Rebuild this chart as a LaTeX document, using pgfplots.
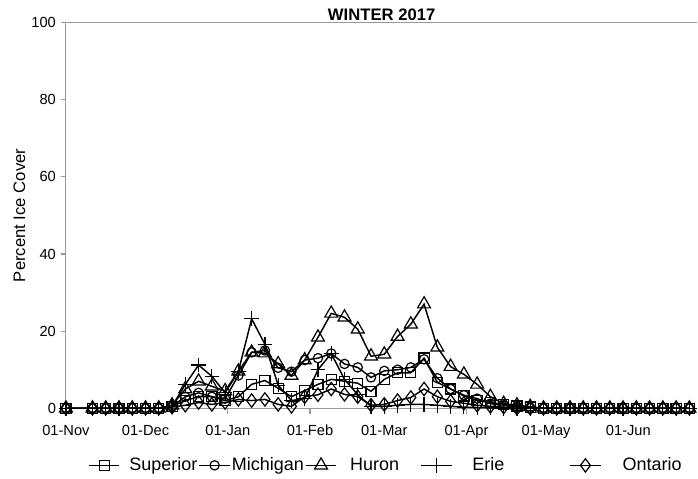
\documentclass[border=0pt]{standalone}
\usepackage{pgfplots}
\pgfplotsset{compat=1.18}
\usepackage{pgfplotstable}
\usepackage{fontspec}
\setmainfont{Liberation Sans}

\pgfplotstableread{
day sup mich huron erie ont
0 0 0 0 0 0
10 0 0 0 0 0
15 0 0 0 0 0
20 0 0 0 0 0
25 0 0 0 0 0
30 0 0 0 0 0
35 0 0 0 0 0
40 0.5 0.5 0.8 0.5 0.3
45 2 3 5 6.2 0.8
50 3 4 7 11.2 1.5
55 3 3 5.7 8.3 1
60 2 2.5 4.5 4 1.5
65 3 8.5 9.6 9.5 2.3
70 6.2 14.5 14.5 23.2 2
75 7.2 15 14.3 16.6 2.3
80 5.2 10.5 11.5 6 1
85 3 9.5 8.5 2 0.5
90 4.6 12.5 12.5 2.5 3
95 6.2 13 18.4 10 3.5
100 7.5 14.2 24.6 14.2 5
105 7 11.5 23.6 7.5 3.6
110 6.5 10.6 20.5 3.5 3
115 4.4 8 13.5 0.5 0.8
120 7.5 9.7 14 0.5 1
125 9.2 10 18.6 0.8 2
130 9.2 10.6 21.8 1 2.8
135 13 12.7 27 1 5
140 6.7 7.8 15.8 0.8 3
145 5 5 10.8 0.5 1.8
150 3.2 3.4 8.8 0.3 1.3
155 2 2.5 6.2 0.2 0.8
160 1.5 1.2 3 0.1 0.5
165 1 0.8 1.2 0 0.3
170 0.6 0.3 0.8 0 0
175 0.3 0.1 0.4 0 0
180 0 0 0 0 0
185 0 0 0 0 0
190 0 0 0 0 0
195 0 0 0 0 0
200 0 0 0 0 0
205 0 0 0 0 0
210 0 0 0 0 0
215 0 0 0 0 0
220 0 0 0 0 0
225 0 0 0 0 0
230 0 0 0 0 0
235 0 0 0 0 0
}\ice

\begin{document}
\begin{tikzpicture}
\begin{axis}[
  scale only axis, width=474pt, height=289.5pt,
  xmin=0, xmax=238, ymin=0, ymax=100,
  axis x line*=bottom, axis y line*=left,
  axis line style={gray!80, line width=0.8pt},
  tick style={gray!80, line width=0.8pt},
  tick align=outside, major tick length=4pt,
  xtick={0,30,61,92,120,151,181,212},
  xticklabels={01-Nov,01-Dec,01-Jan,01-Feb,01-Mar,01-Apr,01-May,01-Jun},
  ytick={0,20,40,60,80,100},
  /pgf/number format/assume math mode=true,
  tick label style={font=\fontsize{11}{13}\selectfont},
  xticklabel style={yshift=-5pt},
  ylabel={Percent Ice Cover},
  every axis y label/.style={at={(rel axis cs:0,0.5)}, xshift=-35pt,
    rotate=90, anchor=center, font=\fontsize{12.5}{14}\selectfont},
  title={\textbf{WINTER 2017}},
  every axis title/.style={at={(rel axis cs:0.5,1)}, yshift=6pt,
    anchor=center, font=\fontsize{12.5}{14}\selectfont},
  legend columns=5,
  legend style={draw=none, inner sep=0pt, at={(0.035,-0.148)}, anchor=west,
    font=\fontsize{13.5}{15}\selectfont,
    nodes={inner sep=1pt},
    /tikz/column 1/.style={column sep=6pt},
    /tikz/column 3/.style={column sep=0pt},
    /tikz/column 5/.style={column sep=9pt},
    /tikz/column 6/.style={column sep=15pt},
    /tikz/column 7/.style={column sep=14pt},
    /tikz/column 8/.style={column sep=48pt},
    /tikz/column 9/.style={column sep=15pt}},
  legend image code/.code={\draw[mark repeat=2,mark phase=2] plot coordinates {(0cm,0cm) (0.4cm,0cm) (0.8cm,0cm)};},
  every axis plot/.append style={black, line width=1.1pt, mark size=3.8pt,
    mark options={solid, fill=white, line width=0.9pt}},
]
\draw[gray!80, line width=0.8pt] (rel axis cs:0,1) -- (rel axis cs:1,1);
\coordinate (bl) at (rel axis cs:0,0);
\coordinate (tr) at (rel axis cs:1,1);
\addplot[mark=square] table[x=day, y=sup] {\ice};
\addlegendentry{Superior}
\addplot[mark=o, mark size=3.5pt] table[x=day, y=mich] {\ice};
\addlegendentry{Michigan}
\addplot[mark=triangle, mark size=5.6pt] table[x=day, y=huron] {\ice};
\addlegendentry{Huron}
\addplot[mark=+, mark size=5.5pt] table[x=day, y=erie] {\ice};
\addlegendentry{Erie}
\addplot[mark=diamond, mark size=5pt] table[x=day, y=ont] {\ice};
\addlegendentry{Ontario}
\end{axis}
\pgfresetboundingbox
\path ([shift={(-49.5pt,-52.5pt)}]bl) rectangle ([shift={(0.5pt,17pt)}]tr);
\end{tikzpicture}
\end{document}
